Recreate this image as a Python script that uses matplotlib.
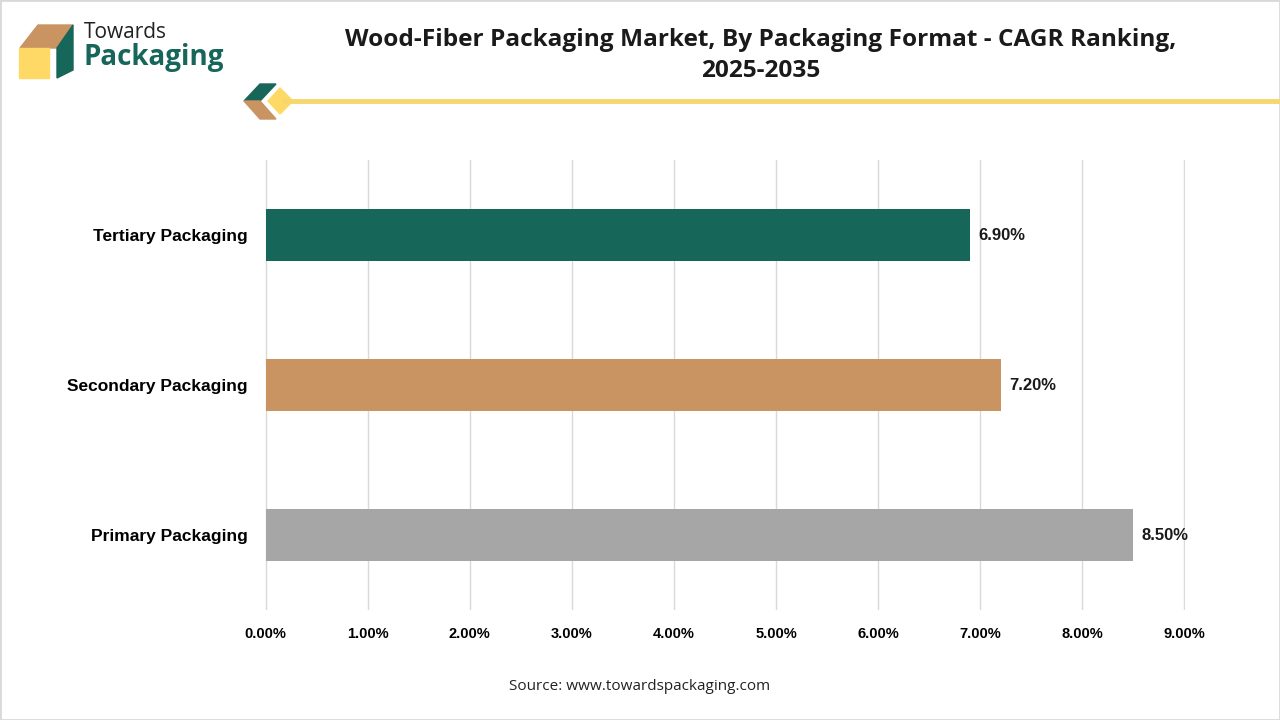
import matplotlib.pyplot as plt
from matplotlib.patches import Polygon, Rectangle

categorias = ["Primary Packaging", "Secondary Packaging", "Tertiary Packaging"]
cagr = [8.50, 7.20, 6.90]
cores = ["#A6A6A6", "#C99462", "#17665A"]
ticks_x = [0, 1, 2, 3, 4, 5, 6, 7, 8, 9]

plt.rcParams['font.family'] = ['Open Sans', 'DejaVu Sans']
arial = ['Liberation Sans', 'DejaVu Sans']

fig = plt.figure(figsize=(12.8, 7.2), dpi=100)
ax = fig.add_axes([265 / 1280, 1 - 610 / 720, 920 / 1280, 450 / 720])

pos = range(len(categorias))
ax.barh(pos, cagr, height=0.35, color=cores, zorder=3)
for y, v in zip(pos, cagr):
    ax.text(v + 0.08, y, f"{v:.2f}%", va="center", ha="left", family=arial,
            fontsize=12, fontweight="bold", color="#1a1a1a")

ax.set_xlim(-0.005, 9.005)
ax.set_ylim(-0.5, 2.5)
ax.set_xticks(ticks_x)
ax.set_xticklabels([f"{t:.2f}%" for t in ticks_x], fontsize=10.5, fontweight="bold",
                   family=arial)
ax.set_yticks(list(pos))
ax.set_yticklabels(categorias, fontsize=12.5, fontweight="bold", family=arial)
ax.tick_params(length=0)
ax.tick_params(axis="y", pad=12.5)
ax.tick_params(axis="x", pad=12)
ax.grid(axis="x", color="#D9D9D9", linewidth=1, zorder=0)
for s in ax.spines.values():
    s.set_visible(False)

# titulo
fig.text(0.594, 0.944, "Wood-Fiber Packaging Market, By Packaging Format - CAGR Ranking,",
         ha="center", va="center", fontsize=17.6, fontweight="bold", color="#1a1a1a")
fig.text(0.594, 0.901, "2025-2035", ha="center", va="center",
         fontsize=17.6, fontweight="bold", color="#1a1a1a")

fig.text(0.5, 0.047, "Source: www.towardspackaging.com", ha="center", va="center",
         fontsize=11, color="#222222")

# logo
def px(x, y):
    return (x / 1280, 1 - y / 720)

fig.patches.append(Polygon([px(20, 48), px(38, 25), px(73, 25), px(57, 48)],
                           closed=True, transform=fig.transFigure, color="#C99462"))
fig.patches.append(Polygon([px(57, 48), px(73, 25), px(73, 70), px(57, 78)],
                           closed=True, transform=fig.transFigure, color="#17665A"))
fig.patches.append(Rectangle(px(19, 78), 30 / 1280, 30 / 720,
                             transform=fig.transFigure, color="#FFD966"))
fig.text(84 / 1280, 1 - 32 / 720, "Towards", fontsize=15, color="#222222",
         va="center", ha="left")
fig.text(84 / 1280, 1 - 58 / 720, "Packaging", fontsize=20, fontweight="bold",
         color="#17665A", va="center", ha="left")

# linha decorativa
fig.add_artist(plt.Line2D([285 / 1280, 1], [1 - 101 / 720] * 2, transform=fig.transFigure,
                          color="#F5D76E", linewidth=3.5))
fig.patches.append(Polygon([px(244, 101), px(260, 84), px(276, 84), px(260, 101)],
                           closed=True, transform=fig.transFigure, color="#17665A"))
fig.patches.append(Polygon([px(244, 101), px(260, 101), px(276, 119), px(260, 119)],
                           closed=True, transform=fig.transFigure, color="#C99462"))
fig.patches.append(Polygon([px(268, 101), px(280, 88), px(293, 101), px(280, 114)],
                           closed=True, transform=fig.transFigure, color="#FFD966"))

# borda
fig.patches.append(Rectangle((0, 0), 1, 1, transform=fig.transFigure, fill=False,
                             edgecolor="#D9D9D9", linewidth=2))

fig.savefig("out.png", dpi=100)
